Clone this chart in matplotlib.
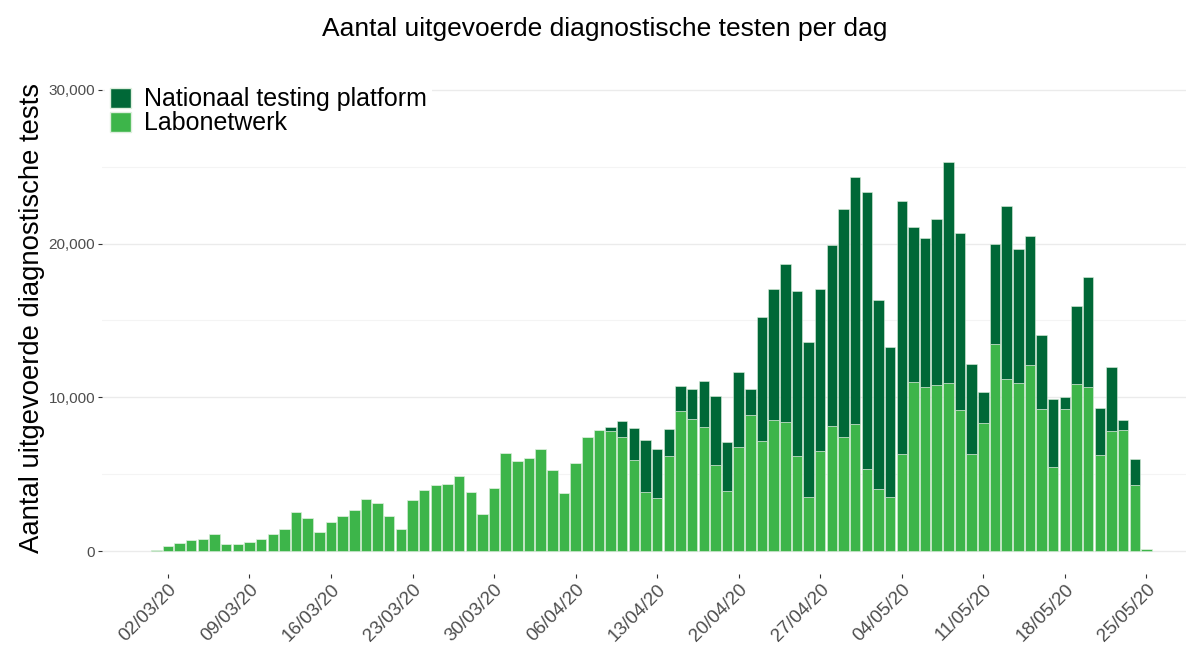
import matplotlib
matplotlib.use("Agg")
import matplotlib.pyplot as plt
import matplotlib.dates as mdates
import matplotlib.ticker as mticker
import matplotlib.patches as mpatches
import numpy as np
import pandas as pd

plt.rcParams["font.family"] = ["Liberation Sans", "DejaVu Sans"]

# daily tests, 01/03/20 .. 25/05/20
dates = pd.date_range("2020-03-01", "2020-05-25", freq="D")

labonetwerk = [
    100, 300, 520, 690, 760, 1110, 460, 480, 610, 800,
    1110, 1430, 2520, 2150, 1260, 1890, 2260, 2690, 3380, 3100,
    2260, 1410, 3300, 3950, 4270, 4340, 4900, 3840, 2410, 4080,
    6400,                                                   # end March
    5850, 6050, 6640, 5270, 3770, 5750, 7400, 7870, 7790, 7400,
    5920, 3840, 3450, 6180, 9110, 8570, 8090, 5570, 3880, 6790,
    8860, 7140, 8520, 8420, 6180, 3510, 6510, 8130, 7440, 8260,  # end April
    5310, 4010, 3540, 6310, 10980, 10670, 10800, 10930, 9200, 6290,
    8330, 13450, 11190, 10910, 12100, 9220, 5490, 9220, 10850, 10690,
    6230, 7810, 7870, 4300, 150,
]

testing_platform = [0] * 39 + [
    280, 1040, 2060, 3380, 3190, 1760, 1600, 1990, 2990, 4530,
    3220, 4830, 1690, 8070, 8530, 10280, 10740, 10110, 10560, 11800,
    14790, 16100,                                           # end April
    18050, 12300, 9740, 16440, 10080, 9720, 10800, 14400, 11470, 5900,
    1990, 6510, 11280, 8720, 8370, 4810, 4400, 800, 5070, 7140,
    3050, 4190, 650, 1710, 0,
]

col_lab = "#3DB54A"
col_ntp = "#006837"

fig = plt.figure(figsize=(11.86, 6.48), dpi=100)
ax = fig.add_axes([0.086, 0.114, 0.914, 0.783])

ax.bar(dates, labonetwerk, width=0.9, color=col_lab, edgecolor="#DDEFDD",
       linewidth=0.4, zorder=2)
ax.bar(dates, testing_platform, width=0.9, bottom=labonetwerk, color=col_ntp,
       edgecolor="#DDEFDD", linewidth=0.4, zorder=2)

# axes ranges
ax.set_ylim(-1500, 31500)
start = dates[0]
ax.set_xlim(start - pd.Timedelta(days=4.66), start + pd.Timedelta(days=88.4))

ax.set_yticks([0, 10000, 20000, 30000])
ax.set_yticks([5000, 15000, 25000], minor=True)
ax.yaxis.set_major_formatter(mticker.FuncFormatter(lambda v, p: f"{int(v):,}"))
ax.yaxis.grid(True, which="major", color="#EBEBEB", linewidth=1.0, zorder=0)
ax.yaxis.grid(True, which="minor", color="#F4F4F4", linewidth=0.8, zorder=0)
ax.set_axisbelow(True)

tick_dates = pd.date_range("2020-03-02", "2020-05-25", freq="7D")
ax.set_xticks(tick_dates)
ax.xaxis.set_major_formatter(mdates.DateFormatter("%d/%m/%y"))
plt.setp(ax.get_xticklabels(), rotation=45, ha="right", va="top",
         rotation_mode="anchor", fontsize=13.5, color="#4D4D4D")

ax.tick_params(axis="y", which="major", labelsize=11, labelcolor="#4D4D4D",
               color="#333333", length=3, width=0.8, pad=2)
ax.tick_params(axis="y", which="minor", length=0)
ax.tick_params(axis="x", color="#333333", length=3, width=0.8, pad=2)

for s in ax.spines.values():
    s.set_visible(False)

legend_elements = [
    mpatches.Patch(facecolor=col_ntp, edgecolor="#DDEFDD", label="Nationaal testing platform"),
    mpatches.Patch(facecolor=col_lab, edgecolor="#DDEFDD", label="Labonetwerk"),
]
leg = ax.legend(handles=legend_elements, loc="upper left", bbox_to_anchor=(-0.004, 0.984),
                fontsize=18, frameon=True, facecolor="white", edgecolor="none",
                framealpha=1, handlelength=0.85, handleheight=0.85,
                handletextpad=0.5, labelspacing=0.0, borderpad=0.2,
                borderaxespad=0.3)
leg.set_zorder(5)

fig.text(0.51, 0.956, "Aantal uitgevoerde diagnostische testen per dag",
         ha="center", va="center", fontsize=19)
fig.text(0.027, 0.509, "Aantal uitgevoerde diagnostische tests",
         ha="center", va="center", rotation=90, fontsize=19.8)

fig.savefig("out.png", dpi=100, facecolor="white")
plt.close(fig)
